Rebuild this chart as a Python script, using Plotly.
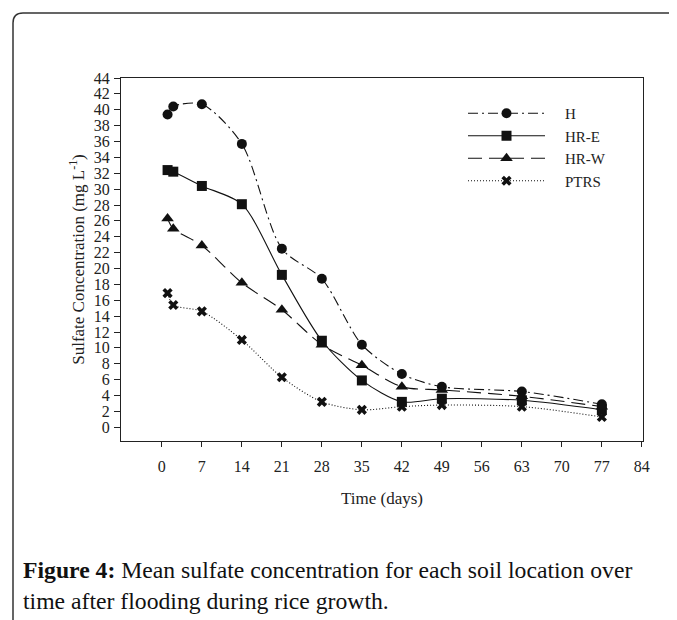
import plotly.graph_objects as go

days = [1, 2, 7, 14, 21, 28, 35, 42, 49, 63, 77]
h_vals = [39.4, 40.4, 40.7, 35.7, 22.5, 18.7, 10.4, 6.7, 5.1, 4.5, 2.9]
hre_vals = [32.4, 32.2, 30.4, 28.1, 19.2, 10.9, 5.9, 3.2, 3.6, 3.4, 2.2]
hrw_vals = [26.3, 25.0, 22.9, 18.2, 14.8, 10.4, 7.8, 5.1, 4.7, 3.9, 2.6]
ptrs_vals = [16.9, 15.4, 14.6, 11.0, 6.3, 3.2, 2.2, 2.6, 2.8, 2.6, 1.3]

series_names = ["H", "HR-E", "HR-W", "PTRS"]
x_ticks = list(range(0, 85, 7))
y_ticks = list(range(0, 45, 2))

# the page body adds an 8px margin; the figure is sized to fill the rest
OFF = 8
W, H = 677 - OFF, 620 - OFF
ML, MR, MT, MB = 121 - OFF, 34, 78 - OFF, 179
PW, PH = W - ML - MR, H - MT - MB


def px(sx):
    # screen x -> paper x
    return (sx - OFF - ML) / PW


def py(sy):
    # screen y -> paper y
    return (H - MB - (sy - OFF)) / PH


styles = [
    dict(dash="10px,4px,2px,4px", symbol="circle", size=10),
    dict(dash="solid", symbol="square", size=10),
    dict(dash="14px,7px", symbol="triangle-up", size=11),
    dict(dash="1px,2px", symbol="x", size=9),
]

pad = "\u00a0" * 4
fig = go.Figure()
for name, vals, st in zip(series_names, [h_vals, hre_vals, hrw_vals, ptrs_vals], styles):
    fig.add_trace(go.Scatter(
        x=days, y=vals, name=pad + name, mode="lines+markers",
        line=dict(color="#111111", width=1.1, dash=st["dash"], shape="spline", smoothing=0.8),
        marker=dict(symbol=st["symbol"], size=st["size"], color="#111111",
                    line=dict(width=0)),
    ))

font_serif = "Liberation Serif, Times New Roman, serif"
txt = "#222222"

fig.update_layout(
    width=W, height=H,
    margin=dict(l=ML, r=MR, t=MT, b=MB),
    paper_bgcolor="white", plot_bgcolor="white",
    font=dict(family=font_serif, color=txt, size=16),
    showlegend=True,
    legend=dict(
        x=px(463), y=py(97), xanchor="left", yanchor="top",
        bgcolor="rgba(0,0,0,0)", borderwidth=0,
        font=dict(size=15, family=font_serif, color=txt),
        itemwidth=77, tracegroupgap=0,
    ),
    xaxis=dict(
        range=[-7.15, 84.2], tickvals=x_ticks, ticktext=[str(t) for t in x_ticks],
        showgrid=False, zeroline=False, showline=True, mirror=True,
        linecolor=txt, linewidth=1.3, ticks="outside", ticklen=5,
        tickcolor=txt, tickwidth=1.2, ticklabelstandoff=6,
        tickfont=dict(size=16, family=font_serif, color=txt),
        title=dict(text="Time (days)", standoff=17,
                   font=dict(size=17, family=font_serif, color=txt)),
    ),
    yaxis=dict(
        range=[-1.73, 44], tickvals=y_ticks, ticktext=[str(t) for t in y_ticks],
        showgrid=False, zeroline=False, showline=True, mirror=True,
        linecolor=txt, linewidth=1.3, ticks="outside", ticklen=6,
        tickcolor=txt, tickwidth=1.2, ticklabelstandoff=1,
        tickfont=dict(size=16, family=font_serif, color=txt),
        title=dict(text="Sulfate Concentration (mg L<sup>-1</sup>)", standoff=4,
                   font=dict(size=17, family=font_serif, color=txt)),
    ),
)

# page frame with rounded top-left corner
path = (f"M {px(13)},{py(640)} L {px(13)},{py(23)} "
        f"Q {px(13)},{py(13)} {px(23)},{py(13)} L {px(700)},{py(13)}")
fig.add_shape(type="path", path=path, xref="paper", yref="paper",
              line=dict(color="#333333", width=1.5), layer="above")

fig.add_annotation(
    xref="paper", yref="paper", x=px(21), y=py(555), xanchor="left", yanchor="top",
    align="left", showarrow=False,
    text="<b>Figure 4:</b> Mean sulfate concentration for each soil location over<br>"
         "time after flooding during rice growth.",
    font=dict(size=23.7, family=font_serif, color="#111111"),
)

fig.write_html("out.html")
